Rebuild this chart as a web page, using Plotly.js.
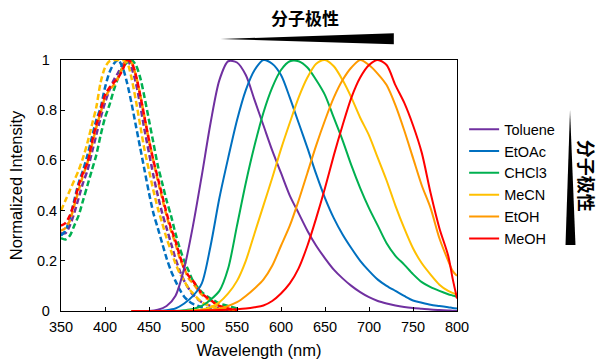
<!DOCTYPE html>
<html>
<head>
<meta charset="utf-8">
<script src="https://cdn.plot.ly/plotly-3.0.1.min.js"></script>
<style>html,body{margin:0;padding:0;background:#fff;}#chart{width:600px;height:364px;}</style>
</head>
<body>
<div id="chart"></div>
<script>
// ---- Data ----
const solvents = ["Toluene", "EtOAc", "CHCl3", "MeCN", "EtOH", "MeOH"];
const colors = ["#7030A0", "#0070C0", "#00B050", "#FFC000", "#FF9A00", "#FF0000"];

// Excitation (dashed) spectra
const exWl = [350,355,360,365,370,375,380,385,390,395,400,405,410,415,420,425,430,435,440,445,450,455,460,465,470,475,480,485,490,495,500,510,520,530,540,550];
const exToluene = [0.31,0.31,0.34,0.39,0.45,0.51,0.56,0.63,0.70,0.77,0.83,0.88,0.92,0.95,0.98,1.0,0.97,0.91,0.82,0.72,0.63,0.54,0.46,0.39,0.33,0.27,0.21,0.16,0.12,0.09,0.065,0.035,0.02,0.01,0.005,0];
const exEtOAc = [0.30,0.32,0.37,0.44,0.51,0.56,0.62,0.69,0.76,0.81,0.89,0.95,0.985,1.0,0.97,0.91,0.83,0.74,0.65,0.56,0.47,0.39,0.33,0.27,0.21,0.16,0.12,0.085,0.057,0.04,0.028,0.015,0.01,0.005,0,0];
const exCHCl3 = [0.29,0.285,0.30,0.34,0.38,0.44,0.50,0.56,0.62,0.70,0.77,0.82,0.88,0.93,0.97,0.99,1.0,0.98,0.93,0.85,0.76,0.67,0.58,0.51,0.44,0.38,0.31,0.25,0.20,0.16,0.12,0.075,0.05,0.03,0.02,0.01];
const exMeCN = [0.40,0.44,0.48,0.52,0.56,0.61,0.67,0.74,0.81,0.91,0.97,0.995,1.0,1.0,1.0,0.99,0.93,0.84,0.74,0.64,0.56,0.48,0.41,0.35,0.29,0.24,0.19,0.15,0.12,0.09,0.07,0.035,0.02,0.01,0.005,0];
const exEtOH = [0.32,0.33,0.36,0.42,0.48,0.54,0.59,0.66,0.73,0.79,0.85,0.88,0.90,0.93,0.97,1.0,0.99,0.94,0.86,0.77,0.68,0.60,0.52,0.45,0.38,0.32,0.27,0.21,0.17,0.13,0.11,0.065,0.04,0.02,0.01,0];
const exMeOH = [0.34,0.35,0.38,0.43,0.50,0.55,0.59,0.67,0.74,0.80,0.86,0.89,0.91,0.93,0.96,1.0,0.99,0.94,0.86,0.77,0.68,0.60,0.53,0.46,0.39,0.33,0.28,0.22,0.17,0.14,0.12,0.07,0.044,0.02,0.01,0];

// Emission (solid) spectra
const emWl = [430,440,450,460,470,480,490,500,510,520,530,540,550,560,570,580,590,600,610,620,630,640,650,660,670,680,690,700,710,720,730,740,750,760,770,780,790,795,800];
const emToluene = [0,0,0,0.005,0.02,0.06,0.17,0.34,0.54,0.75,0.92,0.995,0.99,0.94,0.84,0.74,0.64,0.55,0.46,0.39,0.32,0.26,0.21,0.165,0.13,0.10,0.075,0.055,0.04,0.03,0.022,0.016,0.012,0.009,0.006,0.004,0.002,0.001,0];
const emEtOAc = [0,0,0,0,0.003,0.01,0.03,0.06,0.11,0.26,0.45,0.61,0.76,0.88,0.96,1.0,0.985,0.94,0.85,0.75,0.65,0.545,0.45,0.37,0.305,0.25,0.20,0.16,0.125,0.10,0.08,0.06,0.042,0.033,0.025,0.02,0.015,0.012,0.01];
const emCHCl3 = [0,0,0,0,0,0,0.003,0.008,0.02,0.045,0.08,0.17,0.34,0.51,0.66,0.79,0.89,0.96,0.995,0.995,0.97,0.92,0.86,0.77,0.68,0.58,0.49,0.41,0.34,0.27,0.22,0.185,0.147,0.115,0.095,0.08,0.067,0.062,0.057];
const emMeCN = [0,0,0,0,0,0,0,0.003,0.006,0.015,0.035,0.07,0.12,0.20,0.31,0.42,0.53,0.645,0.75,0.85,0.93,0.985,1.0,0.975,0.92,0.85,0.77,0.70,0.61,0.52,0.42,0.33,0.25,0.19,0.145,0.105,0.08,0.072,0.065];
const emEtOH = [0,0,0,0,0,0,0,0.002,0.003,0.005,0.01,0.02,0.035,0.06,0.09,0.125,0.18,0.26,0.34,0.44,0.55,0.66,0.76,0.85,0.92,0.97,1.0,0.98,0.945,0.90,0.82,0.72,0.61,0.50,0.41,0.29,0.20,0.16,0.14];
const emMeOH = [0,0,0,0,0,0,0,0,0.002,0.003,0.004,0.005,0.007,0.01,0.015,0.022,0.04,0.07,0.11,0.17,0.26,0.37,0.49,0.62,0.74,0.85,0.93,0.98,1.0,0.98,0.90,0.83,0.74,0.63,0.47,0.33,0.22,0.13,0.05];

const xTicks = [350,400,450,500,550,600,650,700,750,800];
const yTicks = [0,0.2,0.4,0.6,0.8,1];
const yTickText = ["0","0.2","0.4","0.6","0.8","1"];
const polarityLabel = "分子极性";

// ---- Traces ----
const exSeries = [exToluene, exEtOAc, exCHCl3, exMeCN, exEtOH, exMeOH];
const emSeries = [emToluene, emEtOAc, emCHCl3, emMeCN, emEtOH, emMeOH];
const traces = [];
exSeries.forEach((ys, i) => {
  traces.push({
    x: exWl, y: ys, type: "scatter", mode: "lines",
    name: solvents[i] + " (Ex)", legendgroup: solvents[i], showlegend: false,
    line: {color: colors[i], width: 2.5, dash: "6px,3px", shape: "spline", smoothing: 0.8}
  });
});
emSeries.forEach((ys, i) => {
  traces.push({
    x: emWl, y: ys, type: "scatter", mode: "lines",
    name: solvents[i], legendgroup: solvents[i],
    line: {color: colors[i], width: 2, shape: "spline", smoothing: 0.8}
  });
});

const FONT = "Liberation Sans, Arial, sans-serif";
const CJK = "Noto Sans CJK SC, sans-serif";
// centre single-character labels under the wider ones (Excel-style centred tick labels)
const yTickShown = yTickText.map(t => t.length === 1 ? t + "\u2002" : t);

const layout = {
  width: 600, height: 364,
  margin: {l: 61, r: 143, t: 60, b: 53},
  paper_bgcolor: "#fff", plot_bgcolor: "#fff",
  font: {family: FONT, size: 14, color: "#000"},
  showlegend: true,
  legend: {
    x: 1.018, y: 0.788, xanchor: "left", yanchor: "top",
    font: {family: FONT, size: 14.5, color: "#000"},
    bgcolor: "rgba(0,0,0,0)", borderwidth: 0, tracegroupgap: 0
  },
  xaxis: {
    range: [350, 800], tickvals: xTicks, ticks: "inside", ticklen: 4, tickcolor: "#000",
    showline: true, linecolor: "#000", linewidth: 1, mirror: true,
    showgrid: false, zeroline: false, ticklabelstandoff: 3,
    tickfont: {family: FONT, size: 14.5, color: "#000"},
    title: {text: "Wavelength (nm)", font: {family: FONT, size: 16.5, color: "#000"}, standoff: 10}
  },
  yaxis: {
    range: [0, 1], tickvals: yTicks, ticktext: yTickShown, ticks: "inside", ticklen: 4, tickcolor: "#000",
    showline: true, linecolor: "#000", linewidth: 1, mirror: true,
    showgrid: false, zeroline: false, ticklabelstandoff: 0,
    tickfont: {family: FONT, size: 14.5, color: "#000"},
    title: {text: "Normalized Intensity", font: {family: FONT, size: 16.5, color: "#000"}, standoff: 10}
  },
  shapes: [
    {type: "path", xref: "paper", yref: "paper", layer: "above",
     path: "M0.4028,1.0837 L0.8404,1.1064 L0.8404,1.0625 Z",
     fillcolor: "#000", line: {width: 0}},
    {type: "path", xref: "paper", yref: "paper", layer: "above",
     path: "M1.2854,0.8008 L1.2992,0.263 L1.274,0.263 Z",
     fillcolor: "#000", line: {width: 0}}
  ],
  annotations: [
    {text: polarityLabel, xref: "paper", yref: "paper", x: 0.615, y: 1.169,
     xanchor: "center", yanchor: "middle", showarrow: false,
     font: {family: CJK, size: 17, color: "#000", weight: "bold"}},
    {text: polarityLabel, xref: "paper", yref: "paper", x: 1.3288, y: 0.538,
     xanchor: "center", yanchor: "middle", showarrow: false, textangle: 90,
     font: {family: CJK, size: 18, color: "#000", weight: "bold"}}
  ]
};

Plotly.newPlot("chart", traces, layout, {staticPlot: true, displayModeBar: false});
</script>
</body>
</html>
